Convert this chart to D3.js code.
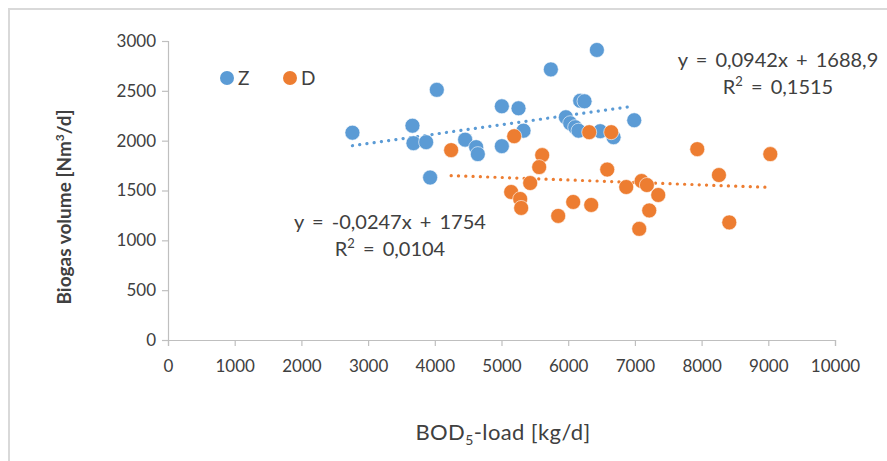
<!DOCTYPE html>
<html>
<head>
<meta charset="utf-8">
<script src="https://cdn.jsdelivr.net/npm/d3@7"></script>
<style>
  body { margin: 0; background: #fff; }
  text { font-family: Lato, "Open Sans", sans-serif; fill: #404040; }
</style>
</head>
<body>
<div id="chart"></div>
<script>
const width = 887;
const height = 461;

// Z series (blue)
const zLoad = [2765, 3665, 3680, 3870, 3930, 4030, 4455, 4620, 4645, 5005, 5005, 5255,
    5330, 5740, 6430, 6180, 6245, 5965, 6030, 6105, 6155, 6480, 6680, 6990];
const zGas = [2080, 2150, 1975, 1985, 1630, 2510, 2010, 1935, 1865, 2345, 1945, 2325,
    2100, 2715, 2910, 2400, 2395, 2235, 2175, 2135, 2100, 2095, 2035, 2205];

// D series (orange)
const dLoad = [4245, 5190, 5610, 5565, 5430, 5145, 5280, 5295, 5850, 6075, 6345, 6315,
    6645, 6585, 6870, 7100, 7180, 7350, 7215, 7065, 7935, 8260, 8415, 9030];
const dGas = [1905, 2045, 1855, 1735, 1575, 1485, 1415, 1325, 1245, 1385, 1355, 2085,
    2085, 1710, 1535, 1595, 1555, 1455, 1300, 1115, 1915, 1655, 1180, 1865];

const seriesNames = ["Z", "D"];
const seriesColors = ["#5b9bd5", "#ed7d31"];
const trendSlope = [0.0942, -0.0247];
const trendIntercept = [1688.9, 1754];
const trendEq = ["y = 0,0942x + 1688,9", "y = -0,0247x + 1754"];
const trendR2 = ["0,1515", "0,0104"];

const xTicks = d3.range(0, 10001, 1000);
const yTicks = d3.range(0, 3001, 500);

const svg = d3.select("#chart").append("svg")
    .attr("width", width)
    .attr("height", height);

// chart frame
svg.append("rect")
    .attr("x", 9).attr("y", 9)
    .attr("width", width + 20).attr("height", height + 20)
    .attr("fill", "none")
    .attr("stroke", "#d9d9d9")
    .attr("stroke-width", 2);

const x = d3.scaleLinear().domain([0, 10000]).range([168, 835]);
const y = d3.scaleLinear().domain([0, 3000]).range([340, 41]);

// axes
const xAxis = svg.append("g")
    .attr("transform", `translate(0,${y(0)})`)
    .call(d3.axisBottom(x).tickValues(xTicks).tickSize(6).tickPadding(14).tickFormat(d3.format("d")));
const yAxis = svg.append("g")
    .attr("transform", `translate(${x(0)},0)`)
    .call(d3.axisLeft(y).tickValues(yTicks).tickSize(6).tickPadding(6).tickFormat(d3.format("d")));

[xAxis, yAxis].forEach(ax => {
    ax.select(".domain").attr("stroke", "#bfbfbf").attr("stroke-width", 1.2);
    ax.selectAll(".tick line").attr("stroke", "#bfbfbf").attr("stroke-width", 1.2);
    ax.selectAll(".tick text")
        .style("font-family", "Lato, 'Open Sans', sans-serif")
        .style("font-size", "17px")
        .attr("fill", "#404040");
});

// trend lines
const zPts = zLoad.map((v, i) => [v, zGas[i]]);
const dPts = dLoad.map((v, i) => [v, dGas[i]]);
const allPts = [zPts, dPts];

allPts.forEach((pts, s) => {
    const ext = d3.extent(pts, p => p[0]);
    const line = ext.map(v => [v, trendSlope[s] * v + trendIntercept[s]]);
    svg.append("path")
        .attr("d", d3.line().x(p => x(p[0])).y(p => y(p[1]))(line))
        .attr("fill", "none")
        .attr("stroke", seriesColors[s])
        .attr("stroke-width", 3.2)
        .attr("stroke-linecap", "round")
        .attr("stroke-dasharray", "0.1 7.2");
});

// points
allPts.forEach((pts, s) => {
    svg.append("g")
        .selectAll("circle")
        .data(pts)
        .join("circle")
        .attr("cx", p => x(p[0]))
        .attr("cy", p => y(p[1]))
        .attr("r", 7.5)
        .attr("fill", seriesColors[s])
        .attr("stroke", "#fff")
        .attr("stroke-width", 0.6);
});

// legend
const legend = svg.append("g");
seriesNames.forEach((name, i) => {
    const lx = 227 + i * 63;
    legend.append("circle").attr("cx", lx).attr("cy", 78).attr("r", 7).attr("fill", seriesColors[i]);
    legend.append("text").attr("x", lx + 11).attr("y", 85)
        .style("font-size", "19px").text(name);
});

// trend labels
const labelPos = [[778, 67], [390, 229]];
labelPos.forEach((pos, s) => {
    svg.append("text")
        .attr("x", pos[0]).attr("y", pos[1])
        .attr("text-anchor", "middle")
        .style("font-size", "20px")
        .style("word-spacing", "3px")
        .text(trendEq[s]);
    const r = svg.append("text")
        .attr("x", pos[0]).attr("y", pos[1] + 27)
        .attr("text-anchor", "middle")
        .style("font-size", "20px")
        .style("word-spacing", "3px");
    r.append("tspan").text("R");
    r.append("tspan").attr("dy", -8).style("font-size", "13px").text("2");
    r.append("tspan").attr("dy", 8).text(" = " + trendR2[s]);
});

// axis titles
const yt = svg.append("text")
    .attr("transform", `translate(71,207) rotate(-90)`)
    .attr("text-anchor", "middle")
    .style("font-size", "19px")
    .style("font-weight", "bold");
yt.append("tspan").text("Biogas volume [Nm");
yt.append("tspan").attr("dy", -7).style("font-size", "12px").text("3");
yt.append("tspan").attr("dy", 7).text("/d]");

const xt = svg.append("text")
    .attr("x", 503).attr("y", 440)
    .attr("text-anchor", "middle")
    .style("font-size", "22px")
    .style("letter-spacing", "0.4px");
xt.append("tspan").text("BOD");
xt.append("tspan").attr("dy", 5).style("font-size", "14px").text("5");
xt.append("tspan").attr("dy", -5).text("-load [kg/d]");
</script>
</body>
</html>
